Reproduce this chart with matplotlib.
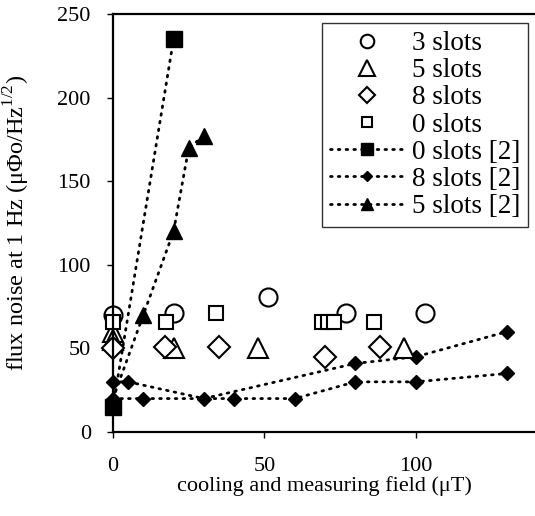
import numpy as np
import matplotlib.pyplot as plt

plt.rcParams['font.family'] = ['Liberation Serif', 'DejaVu Serif']
plt.rcParams['mathtext.fontset'] = 'custom'
plt.rcParams['mathtext.rm'] = 'Liberation Serif'

# open symbols, this work
x_3 = [0, 20, 51, 77, 103]
y_3 = [70, 71, 81, 71, 71]
x_5 = [0, 0, 20, 48, 96]
y_5 = [60, 55, 50, 50, 50]
x_8 = [0, 17, 35, 70, 88]
y_8 = [50, 51, 51, 45, 51]
x_0 = [0, 17.5, 34, 69, 71, 73, 86]
y_0 = [66, 66, 71, 66, 66, 66, 66]

# filled symbols, ref [2]
x_0r = [0, 20]
y_0r = [15, 235]
x_8ra = [0, 5, 30, 80, 100, 130]
y_8ra = [30, 30, 20, 41, 45, 60]
x_8rb = [0, 10, 40, 60, 80, 100, 130]
y_8rb = [20, 20, 20, 20, 30, 30, 35]
x_5r = [0, 10, 20, 25, 30]
y_5r = [20, 70, 120, 170, 177]

fig = plt.figure(figsize=(5.35, 5.16), dpi=100)
ax = fig.add_axes([113/535, 84/516, 422/535, 418/516])

dot = dict(color='black', linestyle=(0, (0.6, 2.2)), linewidth=2.0,
           dash_capstyle='round', clip_on=False)
openm = dict(linestyle='none', mfc='white', mec='black', mew=1.5, clip_on=False)

ax.plot(x_8rb, y_8rb, marker='D', ms=7, mfc='black', mec='black', **dot)
ax.plot(x_0r, y_0r, marker='s', ms=12, mfc='black', mec='black', label='0 slots [2]', **dot)
ax.plot(x_8ra, y_8ra, marker='D', ms=7, mfc='black', mec='black', label='8 slots [2]', **dot)
ax.plot(x_5r, y_5r, marker='^', ms=11, mfc='black', mec='black', label='5 slots [2]', **dot)

ax.plot(x_3, y_3, marker='o', ms=13, label='3 slots', **openm)
ax.plot(x_5, y_5, marker='^', ms=15, label='5 slots', **openm)
ax.plot(x_8, y_8, marker='D', ms=11, label='8 slots', **openm)
ax.plot(x_0, y_0, marker='s', ms=10.5, label='0 slots', **openm)

ax.set_xlim(0, 139.3)
ax.set_ylim(0, 250)
ax.set_xticks([0, 50, 100])
ax.set_yticks([0, 50, 100, 150, 200, 250])
ax.tick_params(labelsize=16, length=4, width=1, direction='out', pad=12)
ax.tick_params(axis='x', pad=14)
ax.spines['right'].set_visible(False)
for s in ['left', 'bottom', 'top']:
    ax.spines[s].set_linewidth(1.6)

ax.set_xlabel('cooling and measuring field (\u03bcT)', fontsize=16, labelpad=0)
ax.set_ylabel('flux noise at 1 Hz (\u03bc\u03a6o/Hz$^{1/2}$)', fontsize=17.5, labelpad=18)

h, l = ax.get_legend_handles_labels()
order = ['3 slots', '5 slots', '8 slots', '0 slots', '0 slots [2]', '8 slots [2]', '5 slots [2]']
hh = [h[l.index(o)] for o in order]
leg = ax.legend(hh, order, loc='upper right', bbox_to_anchor=(528/535, 1 - 23/516),
                bbox_transform=fig.transFigure, borderaxespad=0,
                fontsize=19.5, markerscale=0.75, handlelength=2.7, handletextpad=0.3,
                labelspacing=0.08, borderpad=0.3,
                frameon=True, fancybox=False, edgecolor='black')
leg.get_frame().set_linewidth(1.0)

fig.savefig('out.png', dpi=100)
